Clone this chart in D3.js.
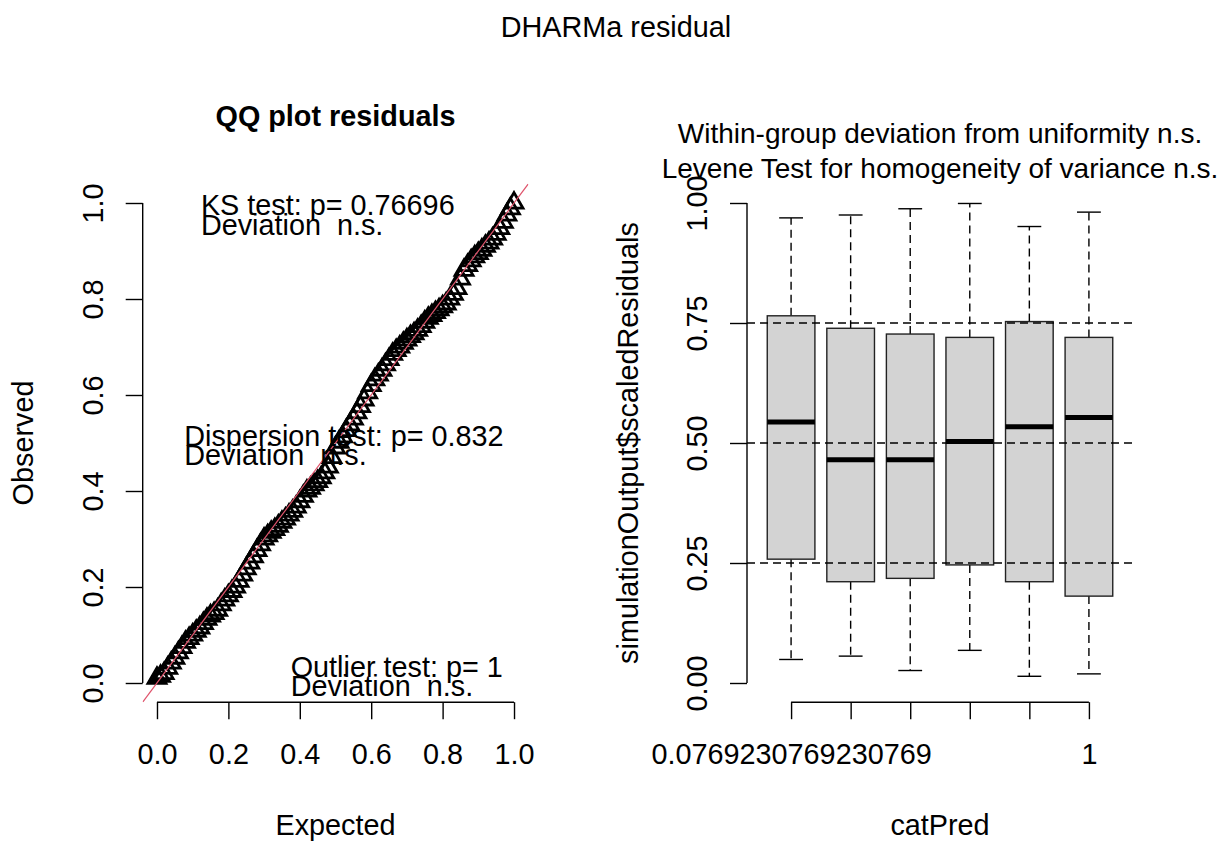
<!DOCTYPE html>
<html>
<head>
<meta charset="utf-8">
<script src="https://cdn.jsdelivr.net/npm/d3@7"></script>
<style>
html,body{margin:0;padding:0;background:#fff;}
svg{display:block;}
text{font-family:"Liberation Sans",Arial,sans-serif;fill:#000;}
</style>
</head>
<body>
<svg id="chart" width="1232" height="842"></svg>
<script>
// ---------- DATA ----------
const qqExpected = [0.00,0.01,0.02,0.03,0.04,0.05,0.06,0.07,0.08,0.09,0.10,0.11,0.12,0.13,0.14,0.15,0.16,0.17,0.18,0.19,0.20,0.21,0.22,0.23,0.24,0.25,0.26,0.27,0.28,0.29,0.30,0.31,0.32,0.33,0.34,0.35,0.36,0.37,0.38,0.39,0.40,0.41,0.42,0.43,0.44,0.45,0.46,0.47,0.48,0.49,0.50,0.51,0.52,0.53,0.54,0.55,0.56,0.57,0.58,0.59,0.60,0.61,0.62,0.63,0.64,0.65,0.66,0.67,0.68,0.69,0.70,0.71,0.72,0.73,0.74,0.75,0.76,0.77,0.78,0.79,0.80,0.81,0.82,0.83,0.84,0.85,0.86,0.87,0.88,0.89,0.90,0.91,0.92,0.93,0.94,0.95,0.96,0.97,0.98,0.99,1.00];
const qqObserved = [0.010,0.014,0.020,0.031,0.042,0.052,0.063,0.074,0.085,0.093,0.100,0.108,0.115,0.124,0.133,0.140,0.145,0.152,0.163,0.173,0.182,0.191,0.200,0.212,0.225,0.238,0.250,0.263,0.276,0.288,0.300,0.307,0.314,0.320,0.327,0.335,0.342,0.350,0.358,0.367,0.378,0.389,0.400,0.406,0.413,0.420,0.428,0.438,0.450,0.470,0.490,0.502,0.513,0.526,0.538,0.550,0.563,0.576,0.590,0.605,0.620,0.632,0.642,0.652,0.663,0.674,0.685,0.693,0.700,0.708,0.715,0.722,0.728,0.735,0.743,0.752,0.760,0.766,0.772,0.778,0.784,0.790,0.800,0.810,0.822,0.842,0.860,0.870,0.880,0.888,0.895,0.902,0.910,0.917,0.925,0.935,0.947,0.960,0.975,0.988,1.000];

const qqTicks = [0.0,0.2,0.4,0.6,0.8,1.0];
const qqTickLabels = ["0.0","0.2","0.4","0.6","0.8","1.0"];

const qqAnnotations = [
  {lines:["KS test: p= 0.76696","Deviation  n.s."], x:0.123, y:0.975},
  {lines:["Dispersion test: p= 0.832","Deviation  n.s."], x:0.0765, y:0.494},
  {lines:["Outlier test: p= 1","Deviation  n.s."], x:0.3745, y:0.013}
];

const boxCategories = ["0.0769230769230769","","","","","1"];
const boxWhiskerLow  = [0.049,0.056,0.026,0.068,0.014,0.019];
const boxQ1          = [0.258,0.211,0.218,0.246,0.211,0.181];
const boxMedian      = [0.544,0.465,0.465,0.503,0.534,0.553];
const boxQ3          = [0.765,0.739,0.727,0.720,0.753,0.720];
const boxWhiskerHigh = [0.969,0.975,0.988,0.999,0.951,0.981];
const boxYTicks = [0.00,0.25,0.50,0.75,1.00];
const boxYTickLabels = ["0.00","0.25","0.50","0.75","1.00"];
const refLines = [0.25,0.50,0.75];

// ---------- LAYOUT ----------
const FS = 28.8;
const svg = d3.select("#chart");
const TICK = 17;

const xL = d3.scaleLinear().domain([-0.04,1.04]).range([142.7,528.3]);
const yL = d3.scaleLinear().domain([-0.04,1.04]).range([702.2,183.8]);
const xR = d3.scaleLinear().domain([0.26,6.74]).range([747,1133]);
const yR = yL;

svg.append("text").attr("x",616).attr("y",37).attr("text-anchor","middle")
  .style("font-size",FS+"px").text("DHARMa residual");

// ---------- LEFT: QQ plot ----------
svg.append("defs").append("clipPath").attr("id","clipL")
  .append("rect").attr("x",xL.range()[0]).attr("y",yL.range()[1])
  .attr("width",xL.range()[1]-xL.range()[0]).attr("height",yL.range()[0]-yL.range()[1]);

const tri = d3.symbol().type(d3.symbolTriangle).size(140);
const gPts = svg.append("g").attr("clip-path","url(#clipL)");
gPts.selectAll("path.pt").data(qqExpected.map((e,i)=>[e,qqObserved[i]])).join("path")
  .attr("class","pt").attr("d",tri)
  .attr("transform",d=>`translate(${xL(d[0])},${yL(d[1])})`)
  .attr("fill","none").attr("stroke","#000").attr("stroke-width",2.8);

gPts.append("line")
  .attr("x1",xL(-0.04)).attr("y1",yL(-0.04)).attr("x2",xL(1.04)).attr("y2",yL(1.04))
  .attr("stroke","#DF536B").attr("stroke-width",1.2);

const axBL = d3.axisBottom(xL).tickValues(qqTicks).tickFormat((d,i)=>qqTickLabels[i])
  .tickSize(TICK).tickPadding(24.6);
const gxl = svg.append("g").attr("transform",`translate(0,${yL(-0.04)})`).call(axBL);
gxl.select(".domain").remove();
gxl.append("line").attr("x1",xL(qqTicks[0])).attr("x2",xL(qqTicks[qqTicks.length-1]));
gxl.selectAll("line").attr("stroke","#000").attr("stroke-width",1.4);
gxl.selectAll("text").style("font-size",FS+"px").attr("fill","#000");

const axLL = d3.axisLeft(yL).tickValues(qqTicks).tickFormat((d,i)=>qqTickLabels[i]).tickSize(TICK);
const gyl = svg.append("g").attr("transform",`translate(${xL(-0.04)},0)`).call(axLL);
gyl.select(".domain").remove();
gyl.append("line").attr("y1",yL(qqTicks[0])).attr("y2",yL(qqTicks[qqTicks.length-1]));
gyl.selectAll("line").attr("stroke","#000").attr("stroke-width",1.4);
gyl.selectAll("text").style("font-size",FS+"px").attr("fill","#000")
  .attr("x",null).attr("dy",null).attr("y",null).attr("text-anchor","middle")
  .attr("transform","translate(-40,0) rotate(-90)");

const cxL = (xL.range()[0]+xL.range()[1])/2;
const cyL = (yL.range()[0]+yL.range()[1])/2;
svg.append("text").attr("x",cxL).attr("y",126).attr("text-anchor","middle")
  .style("font-size",FS+"px").style("font-weight","bold").text("QQ plot residuals");
svg.append("text").attr("x",cxL).attr("y",835).attr("text-anchor","middle")
  .style("font-size",FS+"px").text("Expected");
svg.append("text").attr("transform",`translate(33,${cyL}) rotate(-90)`).attr("text-anchor","middle")
  .style("font-size",FS+"px").text("Observed");

qqAnnotations.forEach(a=>{
  a.lines.forEach((t,i)=>{
    svg.append("text").attr("x",xL(a.x)).attr("y",yL(a.y)+i*19.5)
      .style("font-size",FS+"px").style("white-space","pre").text(t);
  });
});

// ---------- RIGHT: boxplot ----------
const idx = boxCategories.map((c,i)=>i+1);
const bw = 0.4;
const gB = svg.append("g");
idx.forEach((g,i)=>{
  const xc = xR(g), x0 = xR(g-bw), x1 = xR(g+bw);
  const cx0 = xR(g-bw/2), cx1 = xR(g+bw/2);
  gB.append("line").attr("x1",xc).attr("x2",xc).attr("y1",yR(boxQ3[i])).attr("y2",yR(boxWhiskerHigh[i]))
    .attr("stroke","#000").attr("stroke-width",1.4).attr("stroke-dasharray","8,5");
  gB.append("line").attr("x1",xc).attr("x2",xc).attr("y1",yR(boxQ1[i])).attr("y2",yR(boxWhiskerLow[i]))
    .attr("stroke","#000").attr("stroke-width",1.4).attr("stroke-dasharray","8,5");
  gB.append("line").attr("x1",cx0).attr("x2",cx1).attr("y1",yR(boxWhiskerHigh[i])).attr("y2",yR(boxWhiskerHigh[i]))
    .attr("stroke","#000").attr("stroke-width",1.4);
  gB.append("line").attr("x1",cx0).attr("x2",cx1).attr("y1",yR(boxWhiskerLow[i])).attr("y2",yR(boxWhiskerLow[i]))
    .attr("stroke","#000").attr("stroke-width",1.4);
  gB.append("rect").attr("x",x0).attr("y",yR(boxQ3[i])).attr("width",x1-x0)
    .attr("height",yR(boxQ1[i])-yR(boxQ3[i]))
    .attr("fill","#D3D3D3").attr("stroke","#222").attr("stroke-width",1.4);
  gB.append("line").attr("x1",x0).attr("x2",x1).attr("y1",yR(boxMedian[i])).attr("y2",yR(boxMedian[i]))
    .attr("stroke","#000").attr("stroke-width",5);
});

gB.selectAll("line.ref").data(refLines).join("line").attr("class","ref")
  .attr("x1",xR.range()[0]).attr("x2",xR.range()[1])
  .attr("y1",d=>yR(d)).attr("y2",d=>yR(d))
  .attr("stroke","#000").attr("stroke-width",1.4).attr("stroke-dasharray","8,5");

const axBR = d3.axisBottom(xR).tickValues(idx).tickFormat((d,i)=>boxCategories[i])
  .tickSize(TICK).tickPadding(24.6);
const gxr = svg.append("g").attr("transform",`translate(0,${yR(-0.04)})`).call(axBR);
gxr.select(".domain").remove();
gxr.append("line").attr("x1",xR(idx[0])).attr("x2",xR(idx[idx.length-1]));
gxr.selectAll("line").attr("stroke","#000").attr("stroke-width",1.4);
gxr.selectAll("text").style("font-size",FS+"px").attr("fill","#000");

const axLR = d3.axisLeft(yR).tickValues(boxYTicks).tickFormat((d,i)=>boxYTickLabels[i]).tickSize(TICK);
const gyr = svg.append("g").attr("transform",`translate(${xR.range()[0]},0)`).call(axLR);
gyr.select(".domain").remove();
gyr.append("line").attr("y1",yR(boxYTicks[0])).attr("y2",yR(boxYTicks[boxYTicks.length-1]));
gyr.selectAll("line").attr("stroke","#000").attr("stroke-width",1.4);
gyr.selectAll("text").style("font-size",FS+"px").attr("fill","#000")
  .attr("x",null).attr("dy",null).attr("y",null).attr("text-anchor","middle")
  .attr("transform","translate(-40,0) rotate(-90)");

const cxR = (xR.range()[0]+xR.range()[1])/2;
svg.append("text").attr("x",cxR).attr("y",143).attr("text-anchor","middle")
  .style("font-size","28px").text("Within-group deviation from uniformity n.s.");
svg.append("text").attr("x",cxR).attr("y",178).attr("text-anchor","middle")
  .style("font-size","28px").text("Levene Test for homogeneity of variance n.s.");
svg.append("text").attr("x",cxR).attr("y",835).attr("text-anchor","middle")
  .style("font-size",FS+"px").text("catPred");
svg.append("text").attr("transform",`translate(638,${cyL}) rotate(-90)`).attr("text-anchor","middle")
  .style("font-size",FS+"px").text("simulationOutput$scaledResiduals");
</script>
</body>
</html>
